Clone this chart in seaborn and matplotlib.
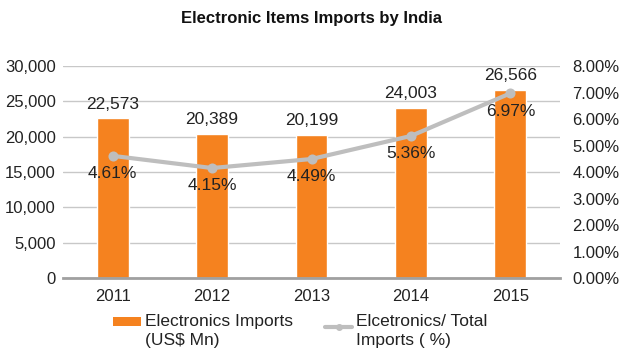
import matplotlib
matplotlib.use("Agg")
import matplotlib.pyplot as plt
import matplotlib.ticker as mticker
from matplotlib.patches import Patch
from matplotlib.lines import Line2D
from matplotlib.legend_handler import HandlerPatch, HandlerLine2D
import seaborn as sns
import pandas as pd

years = ["2011", "2012", "2013", "2014", "2015"]
imports_mn = [22573, 20389, 20199, 24003, 26566]
share_pct = [4.61, 4.15, 4.49, 5.36, 6.97]

title = "Electronic Items Imports by India"
bar_label = "Electronics Imports\n(US$ Mn)"
line_label = "Elcetronics/ Total\nImports ( %)"

ORANGE = "#F5821F"
GREY_LINE = "#BEBEBE"
TEXT = "#222222"

# legend keys sit level with the first line of their two-line labels
KEY_LIFT = 6.5


class LiftedPatch(HandlerPatch):
    def create_artists(self, legend, orig_handle, xdescent, ydescent,
                       width, height, fontsize, trans):
        return super().create_artists(legend, orig_handle, xdescent,
                                      ydescent - KEY_LIFT, width, height,
                                      fontsize, trans)


class LiftedLine(HandlerLine2D):
    def create_artists(self, legend, orig_handle, xdescent, ydescent,
                       width, height, fontsize, trans):
        return super().create_artists(legend, orig_handle, xdescent,
                                      ydescent - KEY_LIFT, width, height,
                                      fontsize, trans)


sns.set_theme(style="white")
plt.rcParams["font.family"] = ["Liberation Sans", "DejaVu Sans"]

df = pd.DataFrame({"year": years, "imports": imports_mn, "share": share_pct})

fig = plt.figure(figsize=(6.23, 3.5), dpi=100)
ax = fig.add_axes([0.101, 0.2057, 0.798, 0.6057])

sns.barplot(data=df, x="year", y="imports", color=ORANGE, saturation=1,
            width=0.32, ax=ax, zorder=2)
ax.set_ylim(0, 30000)
ax.set_yticks(range(0, 30001, 5000))
ax.yaxis.set_major_formatter(mticker.FuncFormatter(lambda v, p: f"{int(v):,}"))
ax.grid(axis="y", color="#C8C8C8", linewidth=1, zorder=0)
ax.set_axisbelow(True)
for s in ["left", "right", "top"]:
    ax.spines[s].set_visible(False)
ax.spines["bottom"].set_color("#A0A0A0")
ax.spines["bottom"].set_linewidth(2)
ax.tick_params(axis="y", length=0, labelsize=12, colors=TEXT, pad=5)
ax.tick_params(axis="x", length=0, labelsize=12, colors=TEXT, pad=8)
ax.set_xlabel("")
ax.set_ylabel("")

for i, v in enumerate(imports_mn):
    ax.annotate(f"{v:,}", (i, v), xytext=(0, 5), textcoords="offset points",
                ha="center", va="bottom", fontsize=12.5, color=TEXT)

ax2 = ax.twinx()
sns.pointplot(data=df, x="year", y="share", color=GREY_LINE, ax=ax2,
              markers="o", markersize=5, linewidth=3, zorder=3)
ax2.set_ylim(0, 8)
ax2.set_yticks(range(0, 9))
ax2.yaxis.set_major_formatter(mticker.FuncFormatter(lambda v, p: f"{v:.2f}%"))
for s in ["left", "right", "top", "bottom"]:
    ax2.spines[s].set_visible(False)
ax2.tick_params(axis="y", length=0, labelsize=12, colors=TEXT, pad=9)
ax2.set_ylabel("")
ax2.set_xlabel("")

for i, v in enumerate(share_pct):
    ax2.annotate(f"{v:.2f}%", (i, v), xytext=(0, -7.5), textcoords="offset points",
                 ha="center", va="top", fontsize=12.5, color=TEXT)

fig.text(0.5, 0.948, title, ha="center", va="center", fontsize=12,
         fontweight="bold", color="#111111")

bar_key = Patch(facecolor=ORANGE, edgecolor="none")
line_key = Line2D([0], [0], color=GREY_LINE, linewidth=3, marker="o", markersize=4)
leg = fig.legend([bar_key, line_key], [bar_label, line_label], loc="center", ncol=2,
                 bbox_to_anchor=(0.482, 0.055), frameon=False, fontsize=12.5,
                 handlelength=1.6, handleheight=0.35, columnspacing=1.85,
                 handletextpad=0.2, labelcolor=TEXT,
                 handler_map={Patch: LiftedPatch(), Line2D: LiftedLine()})
for t in leg.get_texts():
    t.set_linespacing(1.35)

fig.savefig("out.png", dpi=100)
